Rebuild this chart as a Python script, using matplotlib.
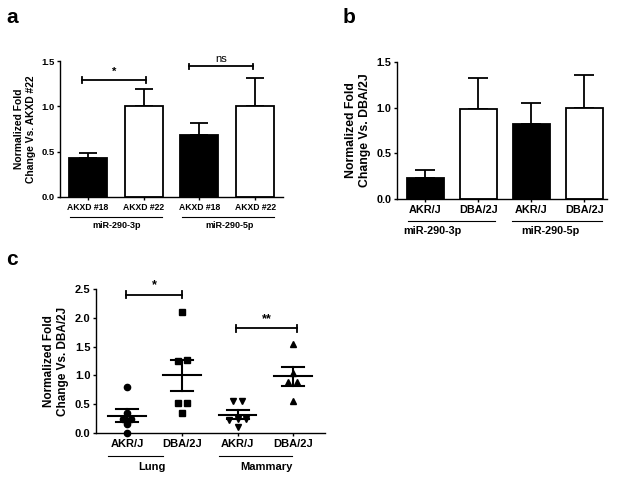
import numpy as np
import matplotlib
matplotlib.use("Agg")
import matplotlib.pyplot as plt

plt.rcParams['font.family'] = ['Liberation Sans', 'DejaVu Sans']
plt.rcParams['font.weight'] = 'bold'
plt.rcParams['axes.labelweight'] = 'bold'

# panel a
a_labels = ['AKXD #18', 'AKXD #22', 'AKXD #18', 'AKXD #22']
a_means = [0.43, 1.0, 0.68, 1.0]
a_err = [0.05, 0.19, 0.14, 0.31]
a_groups = ['miR-290-3p', 'miR-290-5p']

# panel b
b_labels = ['AKR/J', 'DBA/2J', 'AKR/J', 'DBA/2J']
b_means = [0.23, 0.98, 0.82, 1.0]
b_err = [0.09, 0.35, 0.23, 0.36]
b_groups = ['miR-290-3p', 'miR-290-5p']

# panel c
c_labels = ['AKR/J', 'DBA/2J', 'AKR/J', 'DBA/2J']
c_groups = ['Lung', 'Mammary']
lung_akr = [0.8, 0.25, 0.25, 0.35, 0.15, 0.0]
lung_dba = [2.1, 1.27, 1.25, 0.52, 0.52, 0.35]
mam_akr = [0.55, 0.55, 0.25, 0.22, 0.1, 0.25]
mam_dba = [1.55, 1.05, 0.88, 0.88, 0.55]
c_markers = ['o', 's', 'v', '^']


def style_axes(ax, fs, yfs):
    ax.spines['top'].set_visible(False)
    ax.spines['right'].set_visible(False)
    for s in ['left', 'bottom']:
        ax.spines[s].set_linewidth(1.0)
    ax.tick_params(axis='both', direction='out', length=2.5, width=1.0, pad=1.5)
    ax.tick_params(axis='x', labelsize=fs)
    ax.tick_params(axis='y', labelsize=yfs)


def group_lines(ax, spans, groups, centers, fs, yline, ytext):
    tr = ax.get_xaxis_transform()
    for (x0, x1), g, xc in zip(spans, groups, centers):
        ax.plot([x0, x1], [yline, yline], color='black', lw=0.8, transform=tr, clip_on=False)
        ax.text(xc, ytext, g, transform=tr, ha='center', va='top', fontsize=fs, fontweight='bold')


def sig_bracket(ax, x0, x1, y, text, fs, tick=0.03, weight='bold'):
    ax.plot([x0, x1], [y, y], color='black', lw=1.3)
    ax.plot([x0, x0], [y - tick, y + tick], color='black', lw=1.3)
    ax.plot([x1, x1], [y - tick, y + tick], color='black', lw=1.3)
    ax.text((x0 + x1) / 2, y + tick, text, ha='center', va='bottom', fontsize=fs, fontweight=weight)


def bar_panel(ax, labels, means, err, ylabel, fs, yfs, lfs, width):
    x = np.arange(len(means))
    colors = ['black', 'white', 'black', 'white']
    ax.bar(x, means, width=width, color=colors, edgecolor='black', linewidth=1.3, zorder=2)
    ax.errorbar(x, means, yerr=[np.zeros(len(err)), err], fmt='none', ecolor='black',
                elinewidth=1.3, capsize=width * 10, capthick=1.3, zorder=1)
    ax.set_ylim(0, 1.5)
    ax.set_yticks([0, 0.5, 1.0, 1.5])
    ax.set_yticklabels(['0.0', '0.5', '1.0', '1.5'])
    ax.set_xticks(x)
    ax.set_xticklabels(labels, fontweight='bold')
    ax.set_ylabel(ylabel, fontsize=lfs, labelpad=4)
    style_axes(ax, fs, yfs)


def spread(vals, center, thresh, step):
    # group close values and lay each group out symmetrically around the center
    order = np.argsort(vals)
    xs = np.full(len(vals), float(center))
    cluster = [order[0]]
    clusters = []
    for idx in order[1:]:
        if vals[idx] - vals[cluster[-1]] < thresh:
            cluster.append(idx)
        else:
            clusters.append(cluster)
            cluster = [idx]
    clusters.append(cluster)
    for cl in clusters:
        n = len(cl)
        for k, idx in enumerate(cl):
            xs[idx] = center + (k - (n - 1) / 2) * step
    return xs


fig = plt.figure(figsize=(6.29, 4.91), dpi=100)

# a
ax_a = fig.add_axes([60 / 629, 1 - 197 / 491, 223 / 629, 136 / 491])
bar_panel(ax_a, a_labels, a_means, a_err, 'Normalized Fold\nChange Vs. AKXD #22', 6.2, 6.8, 7.4, 0.68)
ax_a.set_xlim(-0.5, 3.5)
group_lines(ax_a, [(-0.32, 1.33), (1.68, 3.33)], a_groups, [0.52, 2.55], 6.5, -0.145, -0.175)
sig_bracket(ax_a, -0.1, 1.05, 1.29, '*', 8, 0.03)
sig_bracket(ax_a, 1.82, 2.97, 1.44, 'ns', 8, 0.03, weight='normal')

# b
ax_b = fig.add_axes([397 / 629, 1 - 199 / 491, 210 / 629, 137 / 491])
bar_panel(ax_b, b_labels, b_means, b_err, 'Normalized Fold\nChange Vs. DBA/2J', 7.8, 7.8, 8.8, 0.70)
ax_b.set_xlim(-0.53, 3.43)
group_lines(ax_b, [(-0.33, 1.31), (1.64, 3.33)], b_groups, [0.14, 2.36], 7.8, -0.16, -0.2)

# c
ax_c = fig.add_axes([96 / 629, 1 - 433 / 491, 229 / 629, 144 / 491])
c_data = [lung_akr, lung_dba, mam_akr, mam_dba]
for i, vals in enumerate(c_data):
    vals = np.array(vals)
    xs = spread(vals, i, 0.09, 0.16)
    ax_c.plot(xs, vals, linestyle='none', marker=c_markers[i], color='black', markersize=4.5,
              clip_on=False, zorder=3)
    m = vals.mean()
    sem = vals.std(ddof=1) / np.sqrt(len(vals))
    ax_c.plot([i - 0.34, i + 0.34], [m, m], color='black', lw=1.5, zorder=2)
    ax_c.plot([i, i], [m - sem, m + sem], color='black', lw=1.5, zorder=2)
    ax_c.plot([i - 0.2, i + 0.2], [m - sem, m - sem], color='black', lw=1.5, zorder=2)
    ax_c.plot([i - 0.2, i + 0.2], [m + sem, m + sem], color='black', lw=1.5, zorder=2)
ax_c.set_xlim(-0.56, 3.58)
ax_c.set_ylim(0, 2.5)
ax_c.set_yticks([0, 0.5, 1.0, 1.5, 2.0, 2.5])
ax_c.set_yticklabels(['0.0', '0.5', '1.0', '1.5', '2.0', '2.5'])
ax_c.set_xticks(range(4))
ax_c.set_xticklabels(c_labels, fontweight='bold')
ax_c.set_ylabel('Normalized Fold\nChange Vs. DBA/2J', fontsize=8.5, labelpad=4)
style_axes(ax_c, 8, 8)
group_lines(ax_c, [(-0.34, 0.65), (1.66, 2.99)], c_groups, [0.45, 2.52], 8, -0.16, -0.2)
sig_bracket(ax_c, -0.02, 1.0, 2.4, '*', 9, 0.06)
sig_bracket(ax_c, 1.98, 3.08, 1.82, '**', 9, 0.06)

# panel letters
fig.text(6 / 629, 1 - 8 / 491, 'a', fontsize=15, fontweight='bold', va='top')
fig.text(343 / 629, 1 - 8 / 491, 'b', fontsize=15, fontweight='bold', va='top')
fig.text(6 / 629, 1 - 250 / 491, 'c', fontsize=15, fontweight='bold', va='top')

fig.savefig('out.png', dpi=100)
